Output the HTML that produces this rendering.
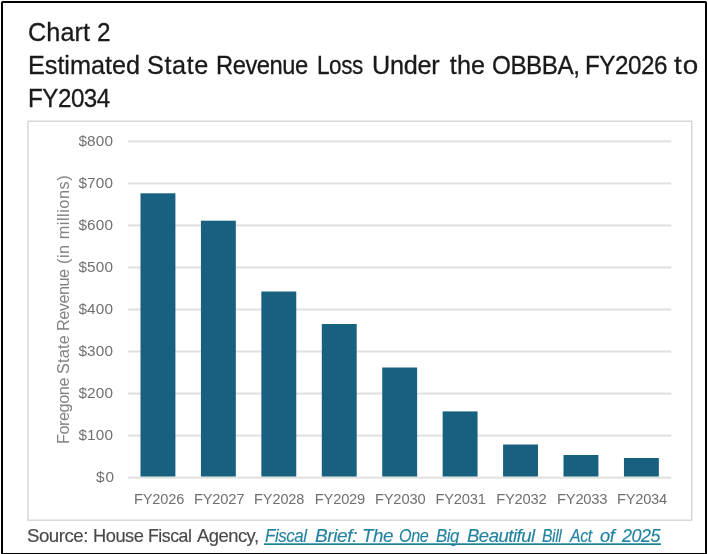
<!DOCTYPE html>
<html lang="en"><head><meta charset="utf-8"><title>Chart 2</title>
<style>
html,body{margin:0;padding:0;background:#fff;}
body{width:708px;height:554px;position:relative;overflow:hidden;font-family:"Liberation Sans",sans-serif;}
.outer{position:absolute;left:1px;top:1px;width:702px;height:550px;border:2px solid #000;border-radius:1.5px;}
.title,.source,.axis-x,.axis-y,.axis-title{margin:0;padding:0;font-weight:normal;font-size:0;line-height:0;}
.link{text-decoration:none;color:inherit;}
.w{position:absolute;white-space:nowrap;line-height:1;margin:0;padding:0;transform-origin:0 50%;}
.t{font-size:25.2px;color:#1a1a1a;-webkit-text-stroke:0.3px #1a1a1a;}
.s{font-size:19.0px;color:#484848;-webkit-text-stroke:0.15px #484848;}
.l{font-size:19.0px;color:#2282a0;font-style:italic;-webkit-text-stroke:0.15px #2282a0;}
.x{font-size:14.7px;color:#707070;filter:blur(0.35px);}
.y{font-size:15.3px;color:#707070;filter:blur(0.35px);}
.plot{position:absolute;left:0;top:0;filter:blur(0.45px);}
.yt{position:absolute;white-space:nowrap;line-height:1;font-size:16px;color:#828282;transform-origin:0 0;filter:blur(0.3px);}
.ul{position:absolute;left:264px;top:543px;width:397px;height:2px;background:linear-gradient(#5aa7bb 0,#5aa7bb 1px,#20829a 1px,#20829a 2px);}
</style></head><body>
<div class="outer"></div>
<svg class="plot" width="708" height="554" viewBox="0 0 708 554"><rect x="27.95" y="121.2" width="663.85" height="399" fill="none" stroke="#d3d3d3" stroke-width="1.35"/><rect x="128.0" y="476.60" width="543.2" height="2.0" fill="#e0e0e0"/><rect x="128.0" y="434.57" width="543.2" height="2.0" fill="#e0e0e0"/><rect x="128.0" y="392.54" width="543.2" height="2.0" fill="#e0e0e0"/><rect x="128.0" y="350.51" width="543.2" height="2.0" fill="#e0e0e0"/><rect x="128.0" y="308.48" width="543.2" height="2.0" fill="#e0e0e0"/><rect x="128.0" y="266.45" width="543.2" height="2.0" fill="#e0e0e0"/><rect x="128.0" y="224.42" width="543.2" height="2.0" fill="#e0e0e0"/><rect x="128.0" y="182.39" width="543.2" height="2.0" fill="#e0e0e0"/><rect x="128.0" y="140.36" width="543.2" height="2.0" fill="#e0e0e0"/><rect x="140.50" y="193.30" width="34.90" height="283.20" fill="#186080"/><rect x="200.93" y="220.70" width="34.90" height="255.80" fill="#186080"/><rect x="261.36" y="291.50" width="34.90" height="185.00" fill="#186080"/><rect x="321.79" y="324.00" width="34.90" height="152.50" fill="#186080"/><rect x="382.22" y="367.50" width="34.90" height="109.00" fill="#186080"/><rect x="442.65" y="411.40" width="34.90" height="65.10" fill="#186080"/><rect x="503.08" y="444.50" width="34.90" height="32.00" fill="#186080"/><rect x="563.51" y="455.00" width="34.90" height="21.50" fill="#186080"/><rect x="623.94" y="458.00" width="34.90" height="18.50" fill="#186080"/></svg>
<h1 class="title">
<span class="line"><span id="w0" class="w t" style="left:28.10px;top:19.67px;letter-spacing:0.048px;">Chart</span> <span id="w1" class="w t" style="left:97.45px;top:19.67px;transform:scaleX(0.9654);">2</span></span>
<span class="line"><span id="w2" class="w t" style="left:27.74px;top:52.67px;letter-spacing:-0.018px;transform:scaleX(1.0010);">Estimated</span> <span id="w3" class="w t" style="left:147.09px;top:52.67px;letter-spacing:0.600px;">State</span> <span id="w4" class="w t" style="left:215.54px;top:52.67px;letter-spacing:-0.500px;transform:scaleX(0.9428);">Revenue</span> <span id="w5" class="w t" style="left:316.82px;top:52.67px;letter-spacing:-0.500px;transform:scaleX(0.8932);">Loss</span> <span id="w6" class="w t" style="left:372.00px;top:52.67px;letter-spacing:-0.248px;">Under</span> <span id="w7" class="w t" style="left:449.81px;top:52.67px;letter-spacing:0.085px;">the</span> <span id="w8" class="w t" style="left:491.59px;top:52.67px;letter-spacing:-0.500px;transform:scaleX(0.9640);">OBBBA,</span> <span id="w9" class="w t" style="left:585.28px;top:52.67px;letter-spacing:-0.500px;transform:scaleX(0.9605);">FY2026</span> <span id="w10" class="w t" style="left:673.53px;top:52.67px;letter-spacing:0.900px;transform:scaleX(1.1031);">to</span></span>
<span class="line"><span id="w11" class="w t" style="left:27.65px;top:85.67px;letter-spacing:-0.500px;transform:scaleX(0.9598);">FY2034</span></span>
</h1>
<div class="axis-y">
<span id="w43" class="w y" style="left:78.39px;top:133.11px;letter-spacing:0.182px;">$800</span>
<span id="w42" class="w y" style="left:78.39px;top:175.14px;letter-spacing:0.182px;">$700</span>
<span id="w41" class="w y" style="left:78.39px;top:217.17px;letter-spacing:0.182px;">$600</span>
<span id="w40" class="w y" style="left:78.39px;top:259.20px;letter-spacing:0.182px;">$500</span>
<span id="w39" class="w y" style="left:78.39px;top:301.23px;letter-spacing:0.182px;">$400</span>
<span id="w38" class="w y" style="left:78.39px;top:343.26px;letter-spacing:0.182px;">$300</span>
<span id="w37" class="w y" style="left:78.39px;top:385.29px;letter-spacing:0.182px;">$200</span>
<span id="w36" class="w y" style="left:78.39px;top:427.32px;letter-spacing:0.182px;">$100</span>
<span id="w35" class="w y" style="left:95.92px;top:469.35px;letter-spacing:0.900px;transform:scaleX(1.0050);">$0</span>
</div>
<div class="axis-x">
<span id="w26" class="w x" style="left:133.95px;top:491.56px;letter-spacing:-0.149px;transform:scaleX(0.9944);">FY2026</span>
<span id="w27" class="w x" style="left:194.01px;top:491.56px;letter-spacing:-0.222px;">FY2027</span>
<span id="w28" class="w x" style="left:254.42px;top:491.56px;letter-spacing:-0.086px;transform:scaleX(0.9887);">FY2028</span>
<span id="w29" class="w x" style="left:314.86px;top:491.56px;letter-spacing:-0.213px;">FY2029</span>
<span id="w30" class="w x" style="left:374.93px;top:491.56px;letter-spacing:-0.161px;">FY2030</span>
<span id="w31" class="w x" style="left:435.42px;top:491.56px;letter-spacing:-0.165px;">FY2031</span>
<span id="w32" class="w x" style="left:496.22px;top:491.56px;letter-spacing:-0.211px;">FY2032</span>
<span id="w33" class="w x" style="left:557.06px;top:491.56px;letter-spacing:-0.239px;transform:scaleX(1.0058);">FY2033</span>
<span id="w34" class="w x" style="left:617.10px;top:491.56px;letter-spacing:-0.292px;">FY2034</span>
</div>
<p class="source"><span id="w12" class="w s" style="left:26.67px;top:525.92px;letter-spacing:-0.500px;transform:scaleX(0.9820);">Source:</span> <span id="w13" class="w s" style="left:93.15px;top:525.92px;letter-spacing:-0.500px;transform:scaleX(0.9620);">House</span> <span id="w14" class="w s" style="left:148.22px;top:525.92px;letter-spacing:-0.500px;transform:scaleX(0.9297);">Fiscal</span> <span id="w15" class="w s" style="left:197.35px;top:525.92px;letter-spacing:-0.500px;transform:scaleX(0.9659);">Agency,</span>
<a class="link"><span id="w16" class="w l" style="left:264.82px;top:525.92px;letter-spacing:-0.500px;transform:scaleX(0.8931);">Fiscal</span> <span id="w17" class="w l" style="left:314.93px;top:525.92px;letter-spacing:-0.369px;transform:scaleX(0.9983);">Brief:</span> <span id="w18" class="w l" style="left:362.28px;top:525.92px;letter-spacing:-0.500px;transform:scaleX(0.9897);">The</span> <span id="w19" class="w l" style="left:398.80px;top:525.92px;letter-spacing:-0.500px;transform:scaleX(0.8515);">One</span> <span id="w20" class="w l" style="left:435.86px;top:525.92px;letter-spacing:-0.500px;transform:scaleX(0.8812);">Big</span> <span id="w21" class="w l" style="left:466.96px;top:525.92px;letter-spacing:-0.500px;transform:scaleX(0.9754);">Beautiful</span> <span id="w22" class="w l" style="left:542.12px;top:525.92px;letter-spacing:-0.500px;transform:scaleX(0.8293);">Bill</span> <span id="w23" class="w l" style="left:570.08px;top:525.92px;letter-spacing:-0.500px;transform:scaleX(0.8330);">Act</span> <span id="w24" class="w l" style="left:599.71px;top:525.92px;letter-spacing:-0.500px;transform:scaleX(0.9640);">of</span> <span id="w25" class="w l" style="left:622.00px;top:525.92px;letter-spacing:-0.500px;transform:scaleX(0.9431);">2025</span></a></p>
<div class="ul"></div>
<div class="axis-title">
<span id="r0" class="yt" style="left:55.40px;top:444.22px;font-size:16.3px;letter-spacing:-0.463px;transform:rotate(-90deg) scaleX(1.0000)">Foregone</span>
<span id="r1" class="yt" style="left:55.40px;top:374.45px;font-size:16.3px;letter-spacing:0.202px;transform:rotate(-90deg) scaleX(1.0000)">State</span>
<span id="r2" class="yt" style="left:55.40px;top:331.42px;font-size:16.3px;letter-spacing:-0.500px;transform:rotate(-90deg) scaleX(1.0000)">Revenue</span>
<span id="r3" class="yt" style="left:55.40px;top:263.51px;font-size:16.3px;letter-spacing:0.524px;transform:rotate(-90deg) scaleX(1.0000)">(in millions)</span>
</div>
</body></html>
